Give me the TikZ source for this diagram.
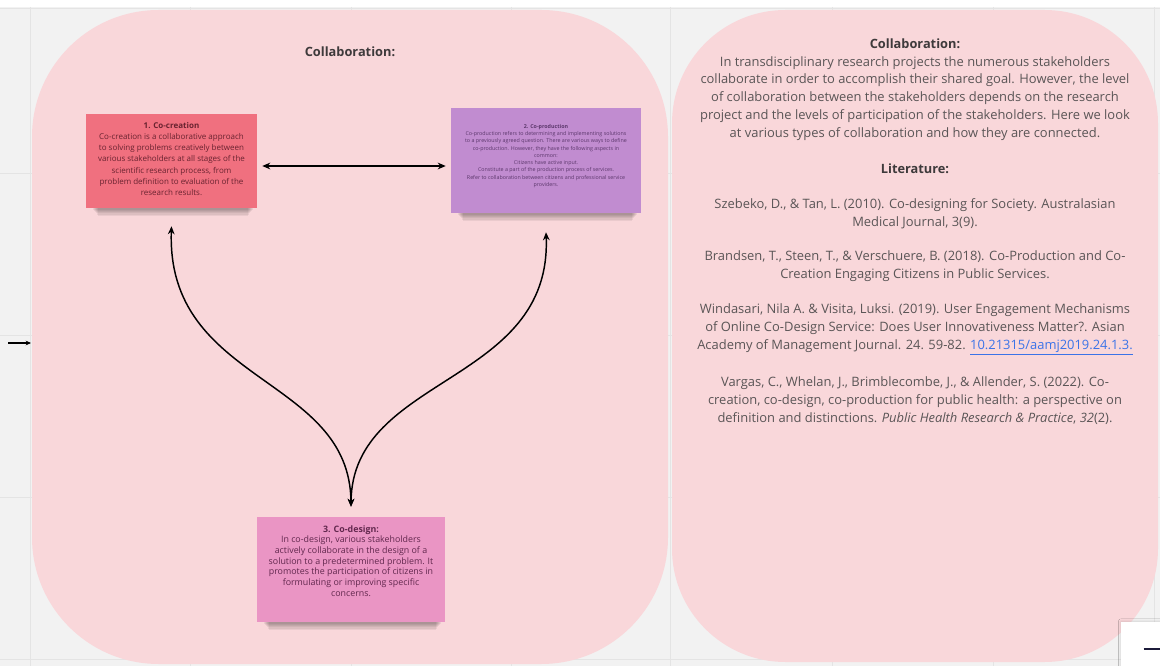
\documentclass[tikz,border=0pt]{standalone}
\usepackage{fontspec}
\setmainfont{Open Sans}
\usetikzlibrary{arrows.meta,shadows.blur,calc}

\definecolor{boardbg}{HTML}{F2F2F2}
\definecolor{gridline}{HTML}{E4E4E4}
\definecolor{panelpink}{HTML}{F9D7DA}
\definecolor{notered}{HTML}{F0707F}
\definecolor{notepurple}{HTML}{C18CD0}
\definecolor{notepink}{HTML}{EA95C4}
\definecolor{headtext}{HTML}{3E3A3B}
\definecolor{bodytext}{HTML}{5A5556}
\definecolor{linkblue}{HTML}{3B73E8}
\definecolor{navy}{HTML}{1C1B3A}

% soft shadow under the lower edge of a sticky note
\newcommand{\noteshadow}[1]{%
  \foreach \k in {1,...,6}
    \fill[black, opacity=0.06]
      ($(#1.south west)+(6+\k,-6)$) rectangle ($(#1.south east)+(-3-\k,1.3*\k)$);
}

\begin{document}
\begin{tikzpicture}[x=0.75pt,y=-0.75pt,
  panel/.style={fill=panelpink, draw=none, rounded corners=95pt},
  note/.style={draw=none, minimum width=#1, inner sep=0pt},
  notetext/.style={align=center, inner sep=0pt},
  heading/.style={font=\fontsize{9.6}{12}\selectfont\bfseries, text=headtext, inner sep=0pt},
  body/.style={align=center, font=\fontsize{9.7}{13.3}\selectfont, text=bodytext, inner sep=0pt},
  conn/.style={line width=1.1pt, black, {Stealth[length=6pt,width=5pt]}-{Stealth[length=6pt,width=5pt]}},
  pointer/.style={line width=1pt, black, -{Stealth[length=4pt,width=3.5pt]}}
]
\useasboundingbox (0,0) rectangle (1160,666);

% board background and its grid
\fill[boardbg] (0,0) rectangle (1160,666);
\fill[white] (0,0) rectangle (1160,7);
\foreach \gx in {30,190,351,511,670,832,993,1154}
  \draw[gridline, line width=0.6pt] (\gx,7) -- (\gx,666);
\foreach \gy in {8,173,335,497,659}
  \draw[gridline, line width=0.6pt] (0,\gy) -- (1160,\gy);

% the two frames
\fill[panel] (32,10) rectangle (668,664);
\fill[panel, rounded corners=85pt] (672,10) rectangle (1158,662);

% incoming pointer on the left edge
\coordinate (pin) at (8,343);
\coordinate (pout) at (31,343);
\draw[pointer] (pin) -- (pout);

% left frame: title and the three notes
\node[heading] (ltitle) at (350,52) {Collaboration:};

\path node[note=171pt*0.75, minimum height=94*0.75pt] (n1) at (171.5,161) {};
\noteshadow{n1}
\fill[notered] (n1.south west) rectangle (n1.north east);
\node[notetext, font=\fontsize{6.0}{8.3}\selectfont, text={rgb,255:red,105;green,35;blue,48}] (t1) at (171.5,159)
  {\textbf{1. Co-creation}\\
   Co-creation is a collaborative approach\\
   to solving problems creatively between\\
   various stakeholders at all stages of the\\
   scientific research process, from\\
   problem definition to evaluation of the\\
   research results.};

\path node[note=190pt*0.75, minimum height=105*0.75pt] (n2) at (546,160.5) {};
\noteshadow{n2}
\fill[notepurple] (n2.south west) rectangle (n2.north east);
\node[notetext, font=\fontsize{4.0}{5.45}\selectfont, text={rgb,255:red,92;green,55;blue,108}] (t2) at (546,156)
  {\textbf{2. Co-production}\\
   Co-production refers to determining and implementing solutions\\
   to a previously agreed question. There are various ways to define\\
   co-production. However, they have the following aspects in\\
   common:\\
   Citizens have active input.\\
   Constitute a part of the production process of services.\\
   Refer to collaboration between citizens and professional service\\
   providers.};

\path node[note=188pt*0.75, minimum height=105*0.75pt] (n3) at (351,569.5) {};
\noteshadow{n3}
\fill[notepink] (n3.south west) rectangle (n3.north east);
\node[notetext, font=\fontsize{6.65}{8.0}\selectfont, text={rgb,255:red,98;green,40;blue,78}] (t3) at (351,561)
  {\textbf{3. Co-design:}\\
   In co-design, various stakeholders\\
   actively collaborate in the design of a\\
   solution to a predetermined problem. It\\
   promotes the participation of citizens in\\
   formulating or improving specific\\
   concerns.};

% connectors between the notes
\draw[conn] ($(n1.east)+(5,5)$) -- ($(n2.west)+(-5,5.5)$);
\draw[conn] ($(n1.south)+(0,18)$) .. controls (166,385) and (350,375) .. ($(n3.north)+(0,-10)$);
\draw[conn] ($(n2.south)+(0,19)$) .. controls (552,385) and (352,375) .. ($(n3.north)+(0,-10)$);

% right frame: description and literature
\node[heading] (rtitle) at (915,44) {Collaboration:};
\node[body, anchor=north] (intro) at (915,56)
  {In transdisciplinary research projects the numerous stakeholders\\
   collaborate in order to accomplish their shared goal. However, the level\\
   of collaboration between the stakeholders depends on the research\\
   project and the levels of participation of the stakeholders. Here we look\\
   at various types of collaboration and how they are connected.};
\node[heading] (lit) at (915,169) {Literature:};
\node[body] (ref1) at (915,213.5)
  {Szebeko, D., \& Tan, L. (2010). Co-designing for Society. Australasian\\
   Medical Journal, 3(9).};
\node[body] (ref2) at (915,266)
  {Brandsen, T., Steen, T., \& Verschuere, B. (2018). Co-Production and Co-\\
   Creation Engaging Citizens in Public Services.};
\node[body] (ref3) at (915,329.5)
  {Windasari, Nila A. \& Visita, Luksi. (2019). User Engagement Mechanisms\\
   of Online Co-Design Service: Does User Innovativeness Matter?. Asian\\
   Academy of Management Journal. 24. 59-82. \textcolor{linkblue}{\underline{10.21315/aamj2019.24.1.3.}}};
\node[body] (ref4) at (915,400.5)
  {Vargas, C., Whelan, J., Brimblecombe, J., \& Allender, S. (2022). Co-\\
   creation, co-design, co-production for public health: a perspective on\\
   definition and distinctions. \textit{Public Health Research \& Practice}, \textit{32}(2).};

% zoom control in the corner
\node[fill=white, minimum width=40*0.75pt, minimum height=45*0.75pt, inner sep=0pt,
  blur shadow={shadow xshift=0pt, shadow yshift=0pt, shadow blur radius=2pt, shadow opacity=15}]
  (zoombox) at (1141,644) {};
\draw[navy, line width=1.5pt] ($(zoombox.west)+(23,5)$) -- ($(zoombox.east)+(0,5)$);
\end{tikzpicture}
\end{document}
